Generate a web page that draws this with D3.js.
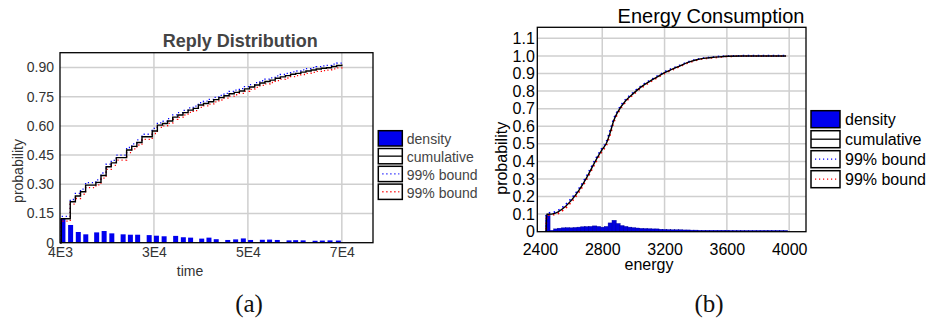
<!DOCTYPE html>
<html><head><meta charset="utf-8">
<script src="https://cdn.jsdelivr.net/npm/d3@7"></script>
<style>
body{margin:0;background:#fff}
svg{display:block}
text{font-family:"Liberation Sans",Arial,sans-serif}
text.cap{font-family:"Liberation Serif","DejaVu Serif",serif}
</style>
</head><body>
<svg id="c" width="928" height="322"></svg>
<script>
// ---------- (a) Reply Distribution ----------
const replyTitle = "Reply Distribution";
const replyXTicks = [4000, 26000, 48000, 70000];
const replyXTickLabels = ["4E3", "3E4", "5E4", "7E4"];
const replyYTicks = [0, 0.15, 0.30, 0.45, 0.60, 0.75, 0.90];
const replyYTickLabels = ["0", "0.15", "0.30", "0.45", "0.60", "0.75", "0.90"];
const replyBarX = [4100, 5900, 7700, 9450, 12000, 13750, 15550, 18200, 19900, 21600, 24300, 26000, 27800, 30500, 32300, 34000, 36600, 38300, 40000, 42700, 44550, 46350, 48050, 50800, 52500, 54300, 57050, 58600, 60350, 63150, 64850, 66650, 68600];
const replyDensity = [0.123, 0.091, 0.055, 0.043, 0.053, 0.06, 0.048, 0.043, 0.041, 0.041, 0.039, 0.036, 0.033, 0.035, 0.028, 0.026, 0.021, 0.026, 0.018, 0.014, 0.017, 0.022, 0.014, 0.015, 0.016, 0.014, 0.012, 0.013, 0.012, 0.01, 0.011, 0.012, 0.011];
const replyCumX = [4300, 5200, 6400, 7600, 8800, 10000, 11200, 12400, 13600, 14800, 16000, 17200, 18400, 19600, 20800, 22000, 23200, 24400, 25600, 26800, 28000, 29200, 30400, 31600, 32800, 34000, 35200, 36400, 37600, 38800, 40000, 41200, 42400, 43600, 44800, 46000, 47200, 48400, 49600, 50800, 52000, 53200, 54400, 55600, 56800, 58000, 59200, 60400, 61600, 62800, 64000, 65200, 66400, 67600, 68800, 70000];
const replyCumulative = [0.123,0.123,0.21,0.24,0.262,0.296,0.296,0.31,0.345,0.39,0.41,0.437,0.437,0.476,0.495,0.515,0.544,0.544,0.574,0.604,0.612,0.625,0.645,0.656,0.668,0.681,0.69,0.707,0.715,0.724,0.735,0.745,0.755,0.765,0.772,0.779,0.79,0.8,0.81,0.82,0.828,0.835,0.845,0.852,0.858,0.865,0.87,0.876,0.882,0.887,0.892,0.896,0.899,0.905,0.91,0.915];
const replyUpper = [0.135,0.135,0.222,0.253,0.275,0.309,0.309,0.323,0.358,0.403,0.423,0.45,0.45,0.489,0.508,0.528,0.557,0.557,0.587,0.616,0.624,0.637,0.657,0.668,0.68,0.693,0.702,0.719,0.727,0.736,0.747,0.757,0.767,0.777,0.784,0.791,0.802,0.812,0.822,0.832,0.84,0.847,0.857,0.864,0.87,0.877,0.882,0.888,0.894,0.899,0.904,0.908,0.911,0.917,0.922,0.927];
const replyLower = [0.111,0.111,0.198,0.227,0.249,0.283,0.283,0.297,0.332,0.377,0.397,0.424,0.424,0.463,0.482,0.502,0.531,0.531,0.561,0.592,0.6,0.613,0.633,0.644,0.656,0.669,0.678,0.695,0.703,0.712,0.723,0.733,0.743,0.753,0.76,0.767,0.778,0.788,0.798,0.808,0.816,0.823,0.833,0.84,0.846,0.853,0.858,0.864,0.87,0.875,0.88,0.884,0.887,0.893,0.898,0.903];

// ---------- (b) Energy Consumption ----------
const energyTitle = "Energy Consumption";
const energyXTicks = [2400, 2800, 3200, 3600, 4000];
const energyYTicks = [0, 0.1, 0.2, 0.3, 0.4, 0.5, 0.6, 0.7, 0.8, 0.9, 1.0, 1.1];
const energyYTickLabels = ["0", "0.1", "0.2", "0.3", "0.4", "0.5", "0.6", "0.7", "0.8", "0.9", "1.0", "1.1"];
const energyBarX = [2450,2475,2500,2525,2550,2575,2600,2625,2650,2675,2700,2725,2750,2775,2800,2825,2850,2875,2900,2925,2950,2975,3000,3025,3050,3075,3100,3125,3150,3175,3200,3225,3250,3275,3300,3325,3350,3375,3400,3425,3450,3475,3500,3525,3550,3575,3600,3625,3650,3675,3700,3725,3750,3775,3800,3825,3850,3875,3900,3925,3950,3975];
const energyDensity = [0.093,0.008,0.016,0.02,0.022,0.023,0.022,0.024,0.026,0.028,0.029,0.03,0.033,0.03,0.026,0.03,0.05,0.065,0.047,0.035,0.03,0.026,0.023,0.021,0.019,0.018,0.017,0.016,0.016,0.014,0.013,0.012,0.011,0.011,0.011,0.01,0.01,0.009,0.009,0.008,0.008,0.008,0.008,0.008,0.008,0.008,0.008,0.007,0.007,0.007,0.007,0.007,0.007,0.007,0.007,0.007,0.007,0.007,0.007,0.007,0.007,0.007];
const energyCumX = [2440, 2443, 2450, 2500, 2550, 2600, 2650, 2700, 2750, 2800, 2825, 2850, 2875, 2900, 2950, 3000, 3050, 3100, 3150, 3200, 3250, 3300, 3350, 3400, 3450, 3500, 3550, 3600, 3700, 3800, 3900, 3980];
const energyCumulative = [0, 0.099, 0.099, 0.106, 0.133, 0.177, 0.235, 0.308, 0.392, 0.468, 0.50, 0.562, 0.635, 0.682, 0.745, 0.787, 0.824, 0.853, 0.879, 0.905, 0.925, 0.944, 0.963, 0.977, 0.986, 0.991, 0.995, 0.998, 1.0, 1.0, 1.0, 1.0];
const energyUpper = [0, 0.1, 0.104, 0.114, 0.142, 0.187, 0.245, 0.318, 0.402, 0.477, 0.51, 0.575, 0.645, 0.69, 0.752, 0.793, 0.83, 0.858, 0.884, 0.909, 0.929, 0.947, 0.966, 0.979, 0.988, 0.993, 0.997, 0.999, 1.001, 1.001, 1.001, 1.001];
const energyLower = [0, 0.092, 0.094, 0.099, 0.124, 0.167, 0.225, 0.298, 0.382, 0.459, 0.49, 0.55, 0.625, 0.674, 0.738, 0.781, 0.818, 0.848, 0.874, 0.901, 0.921, 0.941, 0.96, 0.975, 0.984, 0.989, 0.993, 0.997, 0.999, 0.999, 0.999, 0.999];

const legendLabels = ["density", "cumulative", "99% bound", "99% bound"];
const captions = ["(a)", "(b)"];

const svg = d3.select("#c");
svg.append("rect").attr("width", 928).attr("height", 322).attr("fill", "#fff");

function drawLegend(g, x, y0, w, h, step, fontSize, color, textDx, textDy) {
  legendLabels.forEach((lab, i) => {
    const y = y0 + i * step;
    g.append("rect").attr("x", x).attr("y", y).attr("width", w).attr("height", h)
      .attr("stroke", "#000").attr("stroke-width", 1.5)
      .attr("fill", i === 0 ? "#0000ee" : "#fff");
    if (i === 1) {
      g.append("line").attr("x1", x).attr("x2", x + w).attr("y1", y + h / 2).attr("y2", y + h / 2)
        .attr("stroke", "#000").attr("stroke-width", 1.3);
    }
    if (i >= 2) {
      g.append("line").attr("x1", x + 4).attr("x2", x + w - 3).attr("y1", y + h / 2).attr("y2", y + h / 2)
        .attr("stroke", i === 2 ? "#0000ff" : "#ff0000").attr("stroke-width", 1.3)
        .attr("stroke-dasharray", "1.2,2.8");
    }
    g.append("text").attr("x", x + w + textDx).attr("y", y + textDy)
      .style("font-size", fontSize + "px").attr("fill", color).text(lab);
  });
}

// ===== Chart (a) =====
{
  const g = svg.append("g");
  const x = d3.scaleLinear().domain([4000, 77300]).range([60, 373]);
  const y = d3.scaleLinear().domain([0, 0.976]).range([242.7, 52.7]);
  const tc = "#333";

  g.selectAll(".gy").data(replyYTicks.slice(1)).join("line")
    .attr("x1", 60).attr("x2", 373).attr("y1", d => y(d)).attr("y2", d => y(d))
    .attr("stroke", "#cfcfcf").attr("stroke-width", 1.5);
  g.selectAll(".gx").data(replyXTicks.slice(1)).join("line")
    .attr("y1", 52.7).attr("y2", 242.7).attr("x1", d => x(d)).attr("x2", d => x(d))
    .attr("stroke", "#cfcfcf").attr("stroke-width", 1.5);

  g.selectAll(".bar").data(replyBarX).join("rect")
    .attr("x", d => x(d)).attr("width", x(1170) - x(0))
    .attr("y", (d, i) => y(replyDensity[i])).attr("height", (d, i) => y(0) - y(replyDensity[i]))
    .attr("fill", "#0000ee");

  const pts = (ys) => [[4000, 0]].concat(replyCumX.map((d, i) => [d, ys[i]]));
  const line = d3.line().x(d => x(d[0])).y(d => y(d[1])).curve(d3.curveStepAfter);
  g.append("path").attr("d", line(pts(replyUpper))).attr("fill", "none")
    .attr("stroke", "#0000ff").attr("stroke-width", 1.3).attr("stroke-dasharray", "1.2,2.8");
  g.append("path").attr("d", line(pts(replyLower))).attr("fill", "none")
    .attr("stroke", "#ff0000").attr("stroke-width", 1.3).attr("stroke-dasharray", "1.2,2.8");
  g.append("path").attr("d", line(pts(replyCumulative))).attr("fill", "none")
    .attr("stroke", "#000").attr("stroke-width", 1.4);

  g.append("rect").attr("x", 60).attr("y", 52.7).attr("width", 313).attr("height", 190)
    .attr("fill", "none").attr("stroke", "#000").attr("stroke-width", 1.3);

  const ay = g.append("g").attr("transform", "translate(60,0)")
    .call(d3.axisLeft(y).tickValues(replyYTicks).tickFormat((d, i) => replyYTickLabels[i]).tickSize(0).tickPadding(6));
  const ax = g.append("g").attr("transform", "translate(0,242.7)")
    .call(d3.axisBottom(x).tickValues(replyXTicks).tickFormat((d, i) => replyXTickLabels[i]).tickSize(0).tickPadding(4));
  [ay, ax].forEach(a => {
    a.select(".domain").remove();
    a.selectAll("text").style("font-size", "14px").attr("fill", tc);
  });

  g.append("text").attr("x", 240.3).attr("y", 47.3).attr("text-anchor", "middle")
    .style("font-size", "18px").attr("font-weight", "bold").attr("fill", "#444").text(replyTitle);
  g.append("text").attr("x", 190).attr("y", 275.5).attr("text-anchor", "middle")
    .style("font-size", "14px").attr("fill", tc).text("time");
  g.append("text").attr("transform", "translate(23,171) rotate(-90)").attr("text-anchor", "middle")
    .style("font-size", "14px").attr("fill", tc).text("probability");

  drawLegend(g, 378.3, 130.7, 24, 15.3, 17.8, 14, "#444", 4.5, 13.6);
}

// ===== Chart (b) =====
{
  const g = svg.append("g");
  const x = d3.scaleLinear().domain([2383, 4108]).range([537.3, 806]);
  const y = d3.scaleLinear().domain([0, 1.163]).range([231.7, 27.3]);

  g.selectAll(".gy").data(energyYTicks.slice(1)).join("line")
    .attr("x1", 537.3).attr("x2", 806).attr("y1", d => y(d)).attr("y2", d => y(d))
    .attr("stroke", "#cfcfcf").attr("stroke-width", 1.5);
  g.selectAll(".gx").data(energyXTicks.slice(1)).join("line")
    .attr("y1", 27.3).attr("y2", 231.7).attr("x1", d => x(d)).attr("x2", d => x(d))
    .attr("stroke", "#cfcfcf").attr("stroke-width", 1.5);

  const bw = x(25) - x(0);
  g.selectAll(".bar").data(energyBarX).join("rect")
    .attr("x", d => x(d) - bw / 2).attr("width", bw + 0.4)
    .attr("y", (d, i) => y(energyDensity[i])).attr("height", (d, i) => y(0) - y(energyDensity[i]))
    .attr("fill", "#0000dd").attr("stroke", "#00009a").attr("stroke-width", 0.4);

  const pts = (ys) => energyCumX.map((d, i) => [d, ys[i]]);
  const line = d3.line().x(d => x(d[0])).y(d => y(d[1])).curve(d3.curveMonotoneX);
  g.append("path").attr("d", line(pts(energyUpper))).attr("fill", "none")
    .attr("stroke", "#0000ff").attr("stroke-width", 1.8).attr("stroke-dasharray", "1.5,3.5");
  g.append("path").attr("d", line(pts(energyLower))).attr("fill", "none")
    .attr("stroke", "#ff0000").attr("stroke-width", 1.8).attr("stroke-dasharray", "1.5,3.5").attr("stroke-dashoffset", 2.5);
  g.append("path").attr("d", line(pts(energyCumulative))).attr("fill", "none")
    .attr("stroke", "#000").attr("stroke-width", 1.4);

  g.append("rect").attr("x", 537.3).attr("y", 27.3).attr("width", 806 - 537.3).attr("height", 231.7 - 27.3)
    .attr("fill", "none").attr("stroke", "#000").attr("stroke-width", 1.3);

  const ay = g.append("g").attr("transform", "translate(537.3,0)")
    .call(d3.axisLeft(y).tickValues(energyYTicks).tickFormat((d, i) => energyYTickLabels[i]).tickSize(0).tickPadding(2.5));
  const ax = g.append("g").attr("transform", "translate(0,231.7)")
    .call(d3.axisBottom(x).tickValues(energyXTicks).tickFormat(d3.format("d")).tickSize(0).tickPadding(11.5));
  [ay, ax].forEach(a => {
    a.select(".domain").remove();
    a.selectAll("text").style("font-size", "16px").attr("fill", "#000");
  });

  g.append("text").attr("x", 711).attr("y", 22.5).attr("text-anchor", "middle")
    .style("font-size", "20px").attr("fill", "#000").text(energyTitle);
  g.append("text").attr("x", 649).attr("y", 270).attr("text-anchor", "middle")
    .style("font-size", "16px").attr("fill", "#000").text("energy");
  g.append("text").attr("transform", "translate(507,158.3) rotate(-90)").attr("text-anchor", "middle")
    .style("font-size", "16px").attr("fill", "#000").text("probability");

  drawLegend(g, 811, 110.7, 29, 17, 20, 16, "#000", 5, 14.5);
}

// captions
svg.append("text").attr("class", "cap").attr("x", 249).attr("y", 311.5).attr("text-anchor", "middle")
  .style("font-size", "25px").attr("fill", "#111").text(captions[0]);
svg.append("text").attr("class", "cap").attr("x", 709).attr("y", 311.5).attr("text-anchor", "middle")
  .style("font-size", "25px").attr("fill", "#111").text(captions[1]);
</script>
</body></html>
